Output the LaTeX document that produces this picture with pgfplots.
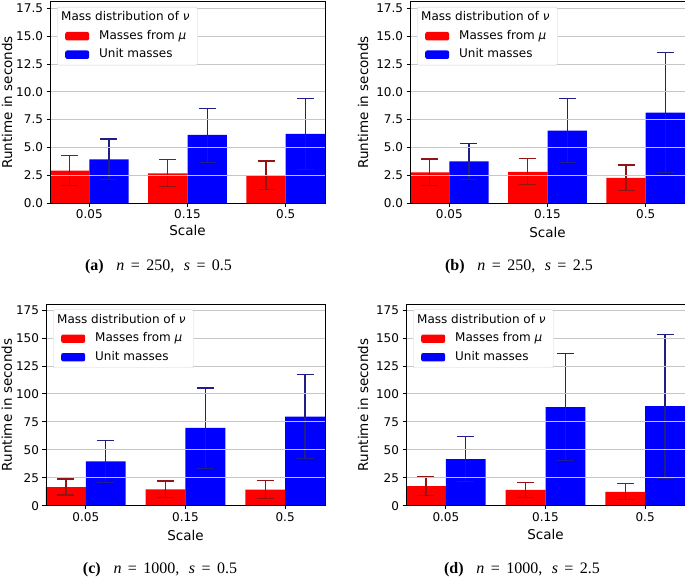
\documentclass[border=0pt]{standalone}
\usepackage{pgfplots}
\pgfplotsset{compat=1.18}
\usepackage{fontspec}
\setmainfont{DejaVu Sans}
\newfontfamily\capfont{Liberation Serif}

\definecolor{errred}{rgb}{0.58,0.08,0.08}
\definecolor{errblue}{rgb}{0.12,0.12,0.52}

\pgfplotsset{
  panel/.style={
    scale only axis, width=275pt, height=201.5pt, anchor=south west,
    ybar, bar width=0.4,
    xmin=-0.4, xmax=2.4, ymin=0,
    xtick={0,1,2}, xticklabels={0.05,0.15,0.5},
    tick align=outside, xtick pos=bottom, ytick pos=left,
    major tick length=3.5pt,
    every tick/.style={black, line width=0.8pt},
    axis line style={black, line width=0.8pt},
    ymajorgrids, major grid style={gray!45, line width=0.8pt},
    axis on top,
    ticklabel style={font=\fontsize{12}{14}\selectfont},
    /pgf/number format/assume math mode=true,
    label style={font=\fontsize{13.5}{16}\selectfont},
    xlabel=Scale, ylabel=Runtime in seconds,
    legend style={at={(0,1)}, anchor=north west, xshift=7pt, yshift=-5.5pt,
      draw=gray!35, fill=white, rounded corners=2pt,
      inner xsep=8pt, inner ysep=5pt, row sep=7.5pt, column sep=10pt,
      nodes={inner sep=0pt, text height=8.5pt, text depth=2.5pt, anchor=west},
      font=\fontsize{12}{14}\selectfont},
    legend cell align=left,
  },
  redbar/.style={bar shift=-0.2, fill=red, draw=none,
    legend image code/.code={\fill[red] (0pt,-4.2pt) rectangle (24pt,4.2pt);},
    error bars/.cd, y dir=both, y explicit,
    error bar style={line width=1.2pt, errred},
    error mark options={rotate=90, mark size=8.5pt, line width=1.2pt, errred}},
  bluebar/.style={bar shift=0.2, fill=blue, draw=none,
    legend image code/.code={\fill[blue] (0pt,-4.2pt) rectangle (24pt,4.2pt);},
    error bars/.cd, y dir=both, y explicit,
    error bar style={line width=1.2pt, errblue},
    error mark options={rotate=90, mark size=8.5pt, line width=1.2pt, errblue}},
  toprow/.style={ymax=18.11, ytick={0,2.5,...,17.5},
    yticklabel style={/pgf/number format/.cd, fixed, fixed zerofill, precision=1}},
  botrow/.style={width=279pt, height=201.7pt, ymax=180.4, ytick={0,25,...,175}},
}

\begin{document}
\begin{tikzpicture}
\useasboundingbox (0,0) rectangle (685pt,582pt);

% (a) n = 250, s = 0.5
\begin{axis}[panel, toprow, at={(50pt,379pt)},
  xlabel style={at={(axis description cs:0.5,-0.1365)}, anchor=center},
  ylabel style={at={(axis description cs:-0.1564,0.5)}, anchor=center}]
\addlegendimage{legend image code/.code={}}
\addplot[redbar] table[x=x, y=y, y error plus=ep, y error minus=em] {
x y ep em
0 2.91 1.38 1.32
1 2.67 1.26 1.20
2 2.49 1.29 1.26
};
\addplot[bluebar] table[x=x, y=y, y error plus=ep, y error minus=em] {
x y ep em
0 3.93 1.83 1.80
1 6.12 2.39 2.46
2 6.21 3.20 3.18
};
\legend{\hspace*{-38pt}Mass distribution of \textit{ν}, Masses from \textit{μ}, Unit masses}
\end{axis}

% (b) n = 250, s = 2.5
\begin{axis}[panel, toprow, at={(410pt,379pt)},
  xlabel style={at={(axis description cs:0.5,-0.144)}, anchor=center},
  ylabel style={at={(axis description cs:-0.171,0.5)}, anchor=center}]
\addlegendimage{legend image code/.code={}}
\addplot[redbar] table[x=x, y=y, y error plus=ep, y error minus=em] {
x y ep em
0 2.76 1.19 1.18
1 2.79 1.19 1.16
2 2.26 1.16 1.16
};
\addplot[bluebar] table[x=x, y=y, y error plus=ep, y error minus=em] {
x y ep em
0 3.75 1.63 1.64
1 6.51 2.88 2.88
2 8.12 5.41 5.39
};
\legend{\hspace*{-38pt}Mass distribution of \textit{ν}, Masses from \textit{μ}, Unit masses}
\end{axis}

% (c) n = 1000, s = 0.5
\begin{axis}[panel, botrow, at={(46pt,76.3pt)},
  xlabel style={at={(axis description cs:0.5,-0.147)}, anchor=center},
  ylabel style={at={(axis description cs:-0.140,0.5)}, anchor=center}]
\addlegendimage{legend image code/.code={}}
\addplot[redbar] table[x=x, y=y, y error plus=ep, y error minus=em] {
x y ep em
0 16.7 7.1 7.2
1 14.6 7.5 7.1
2 14.3 8.1 7.7
};
\addplot[bluebar] table[x=x, y=y, y error plus=ep, y error minus=em] {
x y ep em
0 39.6 18.5 18.7
1 69.5 35.7 36.1
2 79.6 37.9 37.3
};
\legend{\hspace*{-38pt}Mass distribution of \textit{ν}, Masses from \textit{μ}, Unit masses}
\end{axis}

% (d) n = 1000, s = 2.5
\begin{axis}[panel, botrow, at={(406pt,76.3pt)},
  xlabel style={at={(axis description cs:0.5,-0.145)}, anchor=center},
  ylabel style={at={(axis description cs:-0.154,0.5)}, anchor=center}]
\addlegendimage{legend image code/.code={}}
\addplot[redbar] table[x=x, y=y, y error plus=ep, y error minus=em] {
x y ep em
0 17.6 8.7 8.6
1 14.1 6.8 6.6
2 12.3 7.4 6.9
};
\addplot[bluebar] table[x=x, y=y, y error plus=ep, y error minus=em] {
x y ep em
0 41.6 20.0 19.8
1 88.2 47.9 47.8
2 89.1 64.1 64.3
};
\legend{\hspace*{-38pt}Mass distribution of \textit{ν}, Masses from \textit{μ}, Unit masses}
\end{axis}

\begin{scope}[every node/.style={font=\capfont\fontsize{16}{19}\selectfont}]
\node at (158.5pt,315pt) {\textbf{(a)}\hspace{0.8em}\textit{n}\hspace{0.4em}=\hspace{0.4em}250,\hspace{0.6em}\textit{s}\hspace{0.4em}=\hspace{0.4em}0.5};
\node at (519pt,315pt) {\textbf{(b)}\hspace{0.8em}\textit{n}\hspace{0.4em}=\hspace{0.4em}250,\hspace{0.6em}\textit{s}\hspace{0.4em}=\hspace{0.4em}2.5};
\node at (160pt,12.3pt) {\textbf{(c)}\hspace{0.8em}\textit{n}\hspace{0.4em}=\hspace{0.4em}1000,\hspace{0.6em}\textit{s}\hspace{0.4em}=\hspace{0.4em}0.5};
\node at (522pt,12.3pt) {\textbf{(d)}\hspace{0.8em}\textit{n}\hspace{0.4em}=\hspace{0.4em}1000,\hspace{0.6em}\textit{s}\hspace{0.4em}=\hspace{0.4em}2.5};
\end{scope}
\end{tikzpicture}
\end{document}
